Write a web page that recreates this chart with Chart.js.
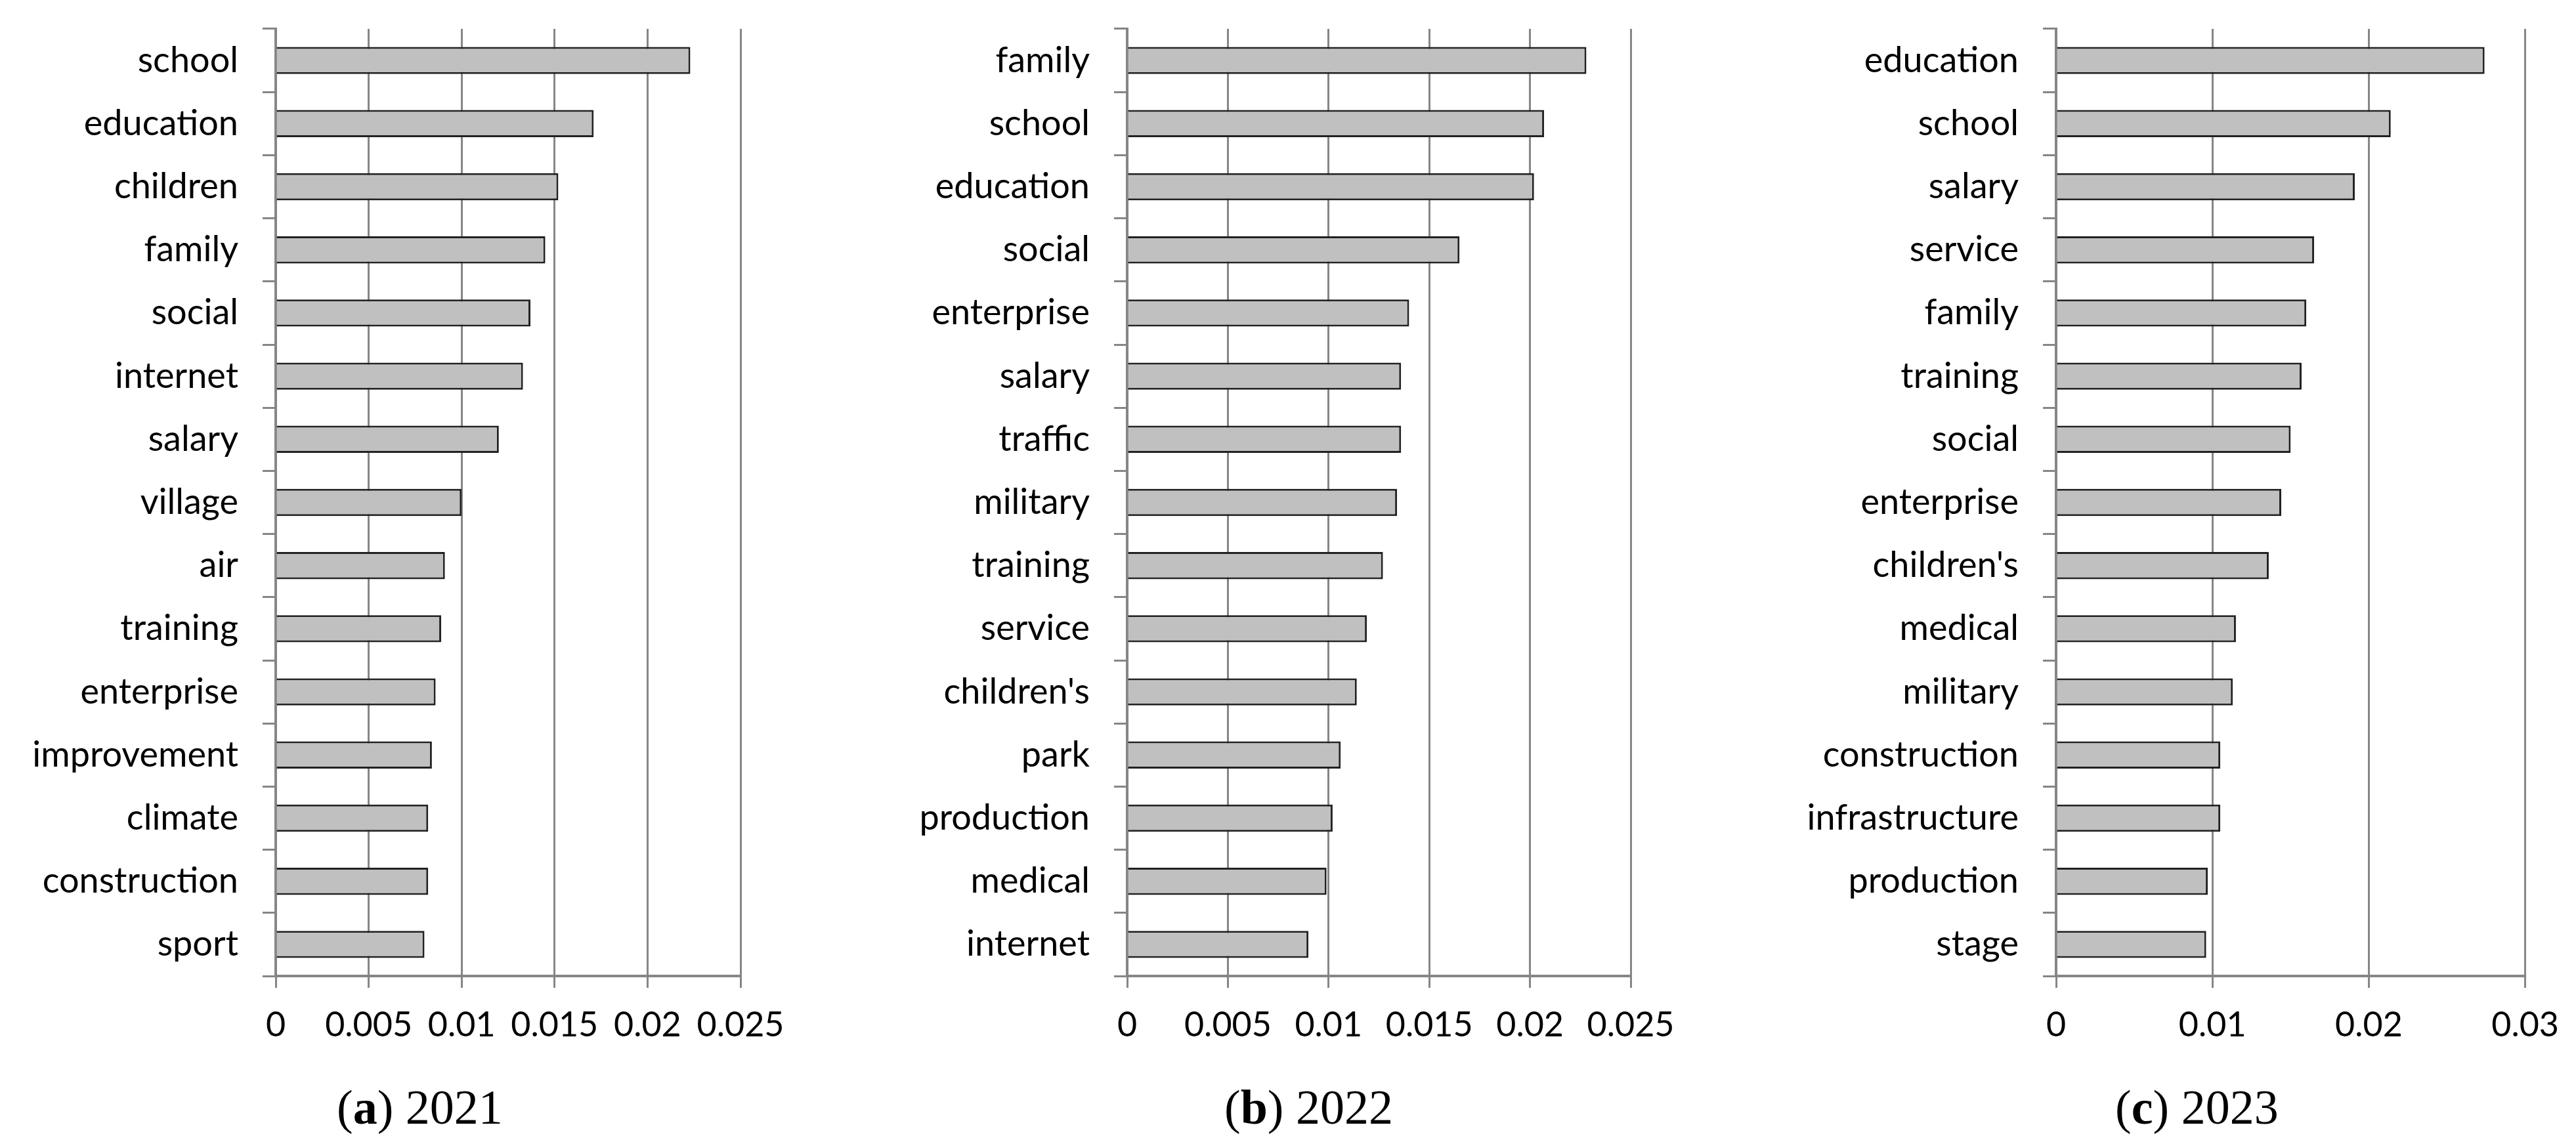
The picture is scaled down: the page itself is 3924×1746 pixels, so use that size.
<!DOCTYPE html>
<html>
<head>
<meta charset="utf-8">
<script src="https://cdn.jsdelivr.net/npm/chart.js@4.4.1/dist/chart.umd.min.js"></script>
<style>
  html, body { margin: 0; padding: 0; background: #ffffff; }
  body { width: 3924px; height: 1746px; position: relative; overflow: hidden; }
  canvas { position: absolute; top: 0; }
  .cap { position: absolute; top: 1650px; font-family: "Liberation Serif", "DejaVu Serif", serif;
         font-size: 74px; line-height: 1; color: #000; white-space: nowrap; }
  .cap b { font-weight: bold; }
</style>
</head>
<body>
<canvas id="cA" width="1228" height="1620" style="left:0px"></canvas>
<canvas id="cB" width="1284" height="1620" style="left:1300px"></canvas>
<canvas id="cC" width="1224" height="1620" style="left:2700px"></canvas>
<div class="cap" style="left:513px">(<b>a</b>) 2021</div>
<div class="cap" style="left:1865px">(<b>b</b>) 2022</div>
<div class="cap" style="left:3222px">(<b>c</b>) 2023</div>
<script>
// ---- data ----
const catsA = ["school","education","children","family","social","internet","salary","village","air","training","enterprise","improvement","climate","construction","sport"];
const valsA = [0.0223,0.0171,0.0152,0.0145,0.0137,0.0133,0.0120,0.0100,0.0091,0.0089,0.0086,0.0084,0.0082,0.0082,0.0080];
const ticksA = ["0","0.005","0.01","0.015","0.02","0.025"];

const catsB = ["family","school","education","social","enterprise","salary","traffic","military","training","service","children's","park","production","medical","internet"];
const valsB = [0.0228,0.0207,0.0202,0.0165,0.0140,0.0136,0.0136,0.0134,0.0127,0.0119,0.0114,0.0106,0.0102,0.0099,0.0090];
const ticksB = ["0","0.005","0.01","0.015","0.02","0.025"];

const catsC = ["education","school","salary","service","family","training","social","enterprise","children's","medical","military","construction","infrastructure","production","stage"];
const valsC = [0.0274,0.0214,0.0191,0.0165,0.0160,0.0157,0.0150,0.0144,0.0136,0.0115,0.0113,0.0105,0.0105,0.0097,0.0096];
const ticksC = ["0","0.01","0.02","0.03"];

// ---- drawing ----
const GRID = "#868686";
function makeChart(id, cats, vals, maxV, stepV, tickLabels, yAxisWidth, padRight) {
  new Chart(document.getElementById(id), {
    type: "bar",
    data: {
      labels: cats,
      datasets: [{
        data: vals,
        backgroundColor: "#c0c0c0",
        borderColor: "#222222",
        borderWidth: 3,
        barPercentage: 0.43,
        categoryPercentage: 1.0
      }]
    },
    options: {
      indexAxis: "y",
      responsive: false,
      animation: false,
      devicePixelRatio: 1,
      layout: { padding: { top: 44, right: padRight, left: 0, bottom: 0 } },
      plugins: { legend: { display: false }, tooltip: { enabled: false } },
      scales: {
        x: {
          min: 0, max: maxV,
          ticks: {
            stepSize: stepV,
            padding: 26,
            color: "#000",
            font: { family: "Lato", size: 52 },
            maxRotation: 0,
            callback: (v, i) => tickLabels[i]
          },
          grid: { color: GRID, lineWidth: 3, drawTicks: true, tickLength: 18, tickColor: GRID },
          border: { display: true, color: GRID, width: 4 },
          afterFit: s => { s.height = 133; s.paddingLeft = 0; }
        },
        y: {
          ticks: {
            padding: 37,
            color: "#000",
            font: { family: "Lato", size: 54 },
            autoSkip: false
          },
          grid: { drawOnChartArea: false, drawTicks: true, tickLength: 20, color: GRID, lineWidth: 3, offset: true },
          border: { display: true, color: GRID, width: 4 },
          afterFit: s => { s.width = yAxisWidth; s.paddingTop = 0; s.paddingBottom = 0; }
        }
      }
    }
  });
}
makeChart("cA", catsA, valsA, 0.025, 0.005, ticksA, 420, 100);
makeChart("cB", catsB, valsB, 0.025, 0.005, ticksB, 417, 100);
makeChart("cC", catsC, valsC, 0.03, 0.01, ticksC, 432, 69);
</script>
</body>
</html>
